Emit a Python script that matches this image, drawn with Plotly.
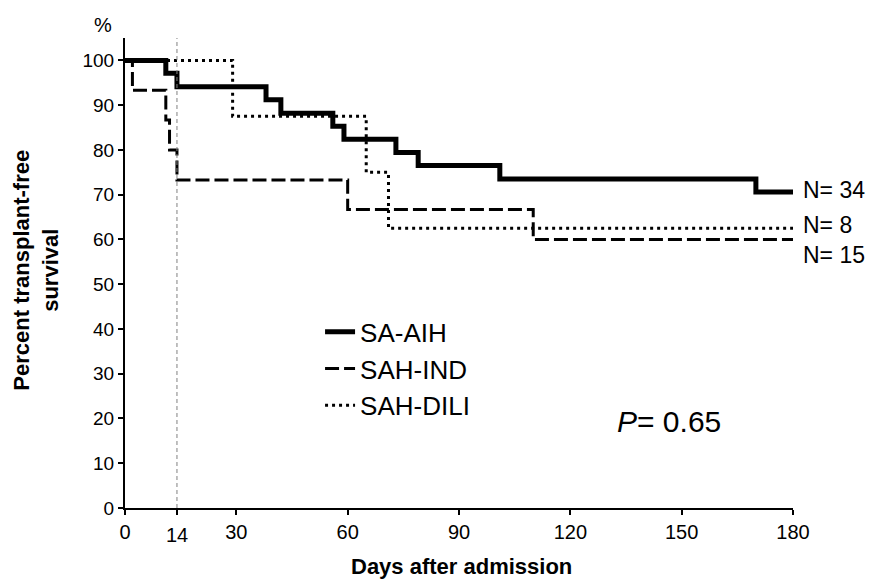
import plotly.graph_objects as go

# ---- data (days, % transplant-free survival) ----
aih_days = [0, 11, 14, 38, 42, 56, 59, 73, 79, 101, 170, 180]
aih_surv = [100, 97.1, 94.1, 91.2, 88.2, 85.3, 82.4, 79.4, 76.5, 73.5, 70.6, 70.6]

ind_days = [0, 2, 11, 12, 14, 60, 110, 180]
ind_surv = [100, 93.3, 86.7, 80.0, 73.3, 66.7, 60.0, 60.0]

dili_days = [0, 29, 65, 71, 180]
dili_surv = [100, 87.5, 75.0, 62.5, 62.5]

names = ["SA-AIH", "SAH-IND", "SAH-DILI"]
n_labels = ["N= 34", "N= 8", "N= 15"]
n_label_y = [71.0, 63.2, 56.5]

x_ticks = [0, 14, 30, 60, 90, 120, 150, 180]
x_ticktext = ["0", "", "30", "60", "90", "120", "150", "180"]
y_ticks = list(range(0, 101, 10))
landmark_day = 14
p_text = "<i>P</i>= 0.65"

FONT = "Liberation Sans, Arial, sans-serif"

fig = go.Figure()

styles = [
    dict(color="black", width=5, dash="solid"),
    dict(color="black", width=3, dash="14px,5px"),
    dict(color="black", width=3, dash="3px,4px"),
]
series = [(aih_days, aih_surv), (ind_days, ind_surv), (dili_days, dili_surv)]

for (xs, ys), nm, st in zip(series, names, styles):
    fig.add_trace(go.Scatter(
        x=xs, y=ys, name=nm, mode="lines",
        line=dict(shape="hv", **st),
        hoverinfo="skip",
    ))

# landmark vertical dashed line at day 14
fig.add_trace(go.Scatter(
    x=[landmark_day, landmark_day], y=[0, 105], mode="lines",
    line=dict(color="#808080", width=1, dash="4px,3px"),
    showlegend=False, hoverinfo="skip",
))

# page body has an 8px default margin, so the figure is drawn 8px smaller
fig.update_layout(
    width=867, height=572,
    margin=dict(l=117, r=82, t=30, b=72, autoexpand=False),
    paper_bgcolor="white", plot_bgcolor="white",
    font=dict(family=FONT, color="black", size=16),
    showlegend=True,
    legend=dict(
        x=0.292, y=0.425, xanchor="left", yanchor="top",
        font=dict(size=26, family=FONT),
        bgcolor="rgba(0,0,0,0)", tracegroupgap=0,
    ),
)

fig.update_xaxes(
    range=[0, 180], tickmode="array", tickvals=x_ticks, ticktext=x_ticktext,
    showline=True, linecolor="black", linewidth=2,
    ticks="outside", ticklen=5, tickwidth=1.5, tickcolor="black",
    showgrid=False, zeroline=False, automargin=False,
    tickfont=dict(size=20, family=FONT),
)
fig.update_yaxes(
    range=[0, 105], tickmode="array", tickvals=y_ticks,
    showline=True, linecolor="black", linewidth=2,
    ticks="outside", ticklen=5, tickwidth=1.5, tickcolor="black",
    showgrid=False, zeroline=False, automargin=False,
    tickfont=dict(size=19, family=FONT),
)

annotations = [
    dict(x=landmark_day, y=0, xref="x", yref="y", yshift=-27, text="14", showarrow=False,
         yanchor="middle", font=dict(size=20, family=FONT)),
    dict(x=0, y=1.0277, xref="x", yref="paper", xshift=-22, text="%", showarrow=False,
         xanchor="center", yanchor="middle", font=dict(size=20, family=FONT)),
    dict(x=0.7335, y=0.183, xref="paper", yref="paper", text=p_text, showarrow=False,
         xanchor="left", yanchor="middle", font=dict(size=30, family=FONT)),
    dict(x=-0.1325, y=0.506, xref="paper", yref="paper", textangle=-90,
         text="<b>Percent transplant-free<br>survival</b>", showarrow=False,
         xanchor="center", yanchor="middle", font=dict(size=22, family=FONT)),
    dict(x=0.503, y=-0.1255, xref="paper", yref="paper",
         text="<b>Days after admission</b>", showarrow=False,
         xanchor="center", yanchor="middle", font=dict(size=22, family=FONT)),
]
for lab, yv in zip(n_labels, n_label_y):
    annotations.append(dict(x=180, y=yv, xref="x", yref="y", xshift=8, text=lab, showarrow=False,
                            xanchor="left", yanchor="middle", font=dict(size=23, family=FONT)))
fig.update_layout(annotations=annotations)

fig.write_html("out.html")
